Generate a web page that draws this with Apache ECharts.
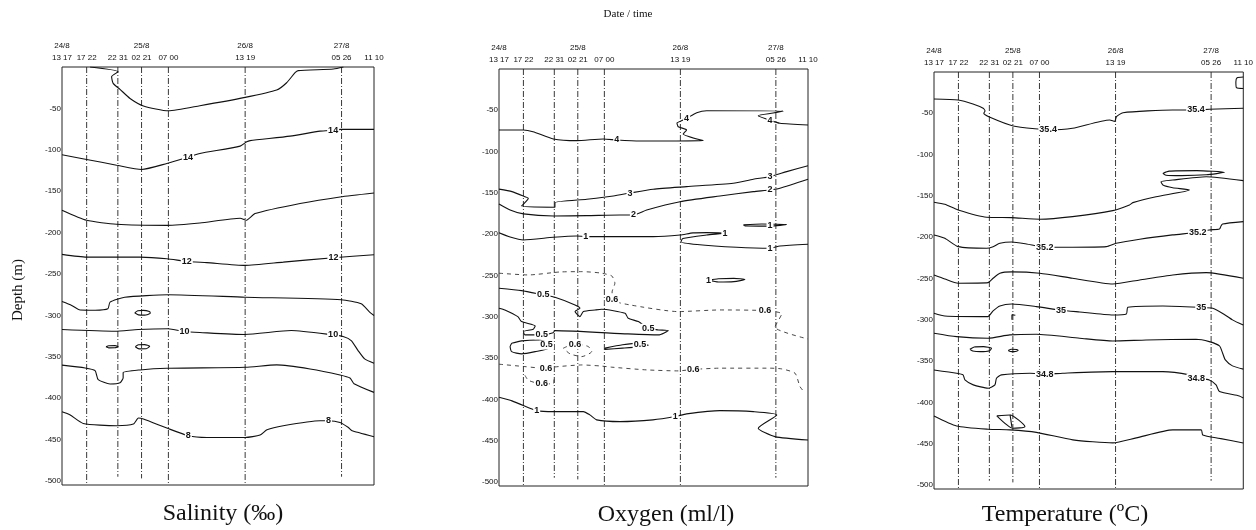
<!DOCTYPE html>
<html><head><meta charset="utf-8">
<script src="https://cdn.jsdelivr.net/npm/echarts@6/dist/echarts.min.js"></script>
<style>html,body{margin:0;padding:0;background:#fff}#c{width:1256px;height:530px}</style>
</head><body><div id="c"></div><script>
// ---- stations (x = relative position along the section, 0..100) ----
const stationPos = [0, 7.9, 17.9, 25.5, 34.1, 58.7, 89.6, 100];
const stationDate = ['24/8', '', '', '25/8', '', '26/8', '27/8', ''];
const stationTime = ['13 17', '17 22', '22 31', '02 21', '07 00', '13 19', '05 26', '11 10'];
const stationMaxDepth = [505, 505, 495, 497, 505, 505, 495, 505];
const depthTicks = [50, 100, 150, 200, 250, 300, 350, 400, 450, 500];

// ---- Salinity contours [x, depth m] ----
const salTop = [[9.0,0],[18.0,5.7],[15.9,11.7],[16.4,19.8],[18.6,27],[21.8,38],[26.1,47],[34.1,52.9],[44.2,46.8],[58.7,36.7],[68.8,27.8],[72.0,19],[74.7,6.9],[75.7,4.4],[87,2.4],[90.2,0]];
const sal14 = [[0,106],[7.9,111.7],[17.5,118.6],[25.5,123.8],[33.6,116.6],[40.4,109],[44.2,104.5],[57.1,95.6],[59.2,90.4],[60.3,89],[73.1,83.5],[82.7,77.5],[86.9,76.3],[89.4,75.4],[100,75.4]];
const sal13 = [[0,173],[7.9,185.2],[17.5,190],[33.6,191.3],[44.2,188.5],[57.1,182.8],[59,185.2],[61.9,177.1],[76.3,165],[89.1,157],[100,152.2]];
const sal12 = [[0,226.4],[7.9,229.7],[25,229.7],[33.6,231.6],[40,234.9],[46.4,236.4],[58.7,239.7],[70.9,235.7],[87,230.4],[100,226.8]];
const sal11 = [[0,283.3],[3.1,288],[5.8,293.6],[10.6,293.8],[14.7,292.1],[15.4,284.1],[20.1,278.1],[34,275.2],[58.7,278.1],[89.5,281.2],[95.9,286.1],[98.6,296.2],[100,300.2]];
const sal10 = [[0,317.2],[17,319.2],[24.4,317.2],[34,316.3],[39.3,319.6],[44.2,320.8],[58.6,323.2],[73.5,318.4],[86.9,323.6],[90.1,325.7],[92.7,330.5],[94.9,342.6],[97,352.7],[100,358]];
const sal9 = [[0,360.2],[7.4,363.6],[10.6,366.8],[11.6,377.7],[15.4,382.9],[18.6,381.4],[19.6,375.3],[19.6,369.2],[25,366],[33.6,364],[58.7,362.8],[68.8,359.9],[79.5,364.8],[89.1,372],[92.3,375.7],[93.6,382.6],[100,393.1]];
const sal8 = [[0,416.5],[2.5,420.1],[6.8,430.6],[17.5,433.4],[22.9,431.4],[24.5,424.1],[26.1,425.3],[33.6,436.2],[40.5,445.5],[46.4,447.6],[58.7,447.6],[63.5,444.7],[65.7,438.3],[70.9,433.4],[82.7,427.4],[85.4,427.4],[89.1,429.4],[91.8,435.5],[93,439.5],[100,446.7]];
const salOval1 = [[23.3,297],[24.3,294.5],[26,294],[28,295.5],[28.3,297.5],[26.5,299.8],[24.5,299.5],[23.3,297]];
const salOval2 = [[14.1,338],[15,336.8],[17,336.6],[18,337.8],[17,339.2],[15,339.3],[14.1,338]];
const salOval3 = [[23.5,338],[24.5,335.6],[26.5,335.4],[28.1,337.5],[27,340.4],[24.7,340.5],[23.5,338]];
const salLabels = [[86.9,76.3,'14'],[40.4,109,'14'],[40,234.9,'12'],[87,230.4,'12'],[39.3,319.6,'10'],[86.9,323.6,'10'],[40.5,445.5,'8'],[85.4,427.4,'8']];

// ---- Oxygen contours ----
const oxy4 = [[0,73.8],[7.9,73.8],[11,75.9],[17.6,84.7],[25.1,86.8],[33.8,84.7],[38.1,86],[45.6,87.2],[66.1,86.8],[59.6,78.7],[60.7,73.8],[58,69.9],[57.6,65.4],[59.6,61.7],[60.7,59.7],[64,52.9],[67.2,50.5],[92,50.8],[88.7,53.3],[83.9,56.5],[87.7,62],[90.9,65.7],[100,67.8]];
const oxy3 = [[0,145.5],[4.2,148.5],[8.4,154.6],[9.5,156.5],[8.7,160.7],[7.3,165.9],[18.1,167.4],[18.1,161.9],[28.4,157.7],[37,153.8],[42.4,150.2],[49.9,145.6],[60.7,142.5],[75.8,138.4],[82.3,133.5],[87.7,130.4],[93.1,124.3],[100,117.1]];
const oxy2 = [[0,163.4],[3.6,170.7],[7.9,175.5],[17.6,178],[28.4,177.6],[39.2,176.8],[43.5,176.8],[47.8,170.7],[58.6,160.7],[71.5,153.8],[82.3,148.5],[87.7,146.5],[90.9,144.4],[100,133.5]];
const oxy1a = [[0,198.2],[3.6,203.4],[7.9,207],[17.6,203.8],[25.1,202.2],[28.1,203],[32.7,203],[49.9,203],[58.6,201],[62.8,198.5],[67.2,198.2],[73.1,198.9],[67.2,201],[59.5,205.2],[58.9,209.1],[64.1,212.5],[76.9,215.9],[87.7,217.1],[90.9,214.3],[100,212.2]];
const oxy1b = [[79.1,188.8],[85,187.8],[93.1,188.3],[88,190.3],[80,190.2],[79.1,188.8]];
const oxy1c = [[67.8,255.6],[71,254],[76,253.5],[79.6,255],[76,257.5],[71,258],[67.8,255.6]];
const oxy1d = [[0,397.5],[4.2,401.9],[10,410.8],[12.2,414],[17.6,414.9],[27.3,414.9],[29.4,418.9],[31.6,424.9],[39.2,427],[49.8,424.9],[57,420.9],[60.7,417.7],[71.5,413.7],[82.3,414.9],[89.9,418.9],[83.9,435],[89.3,445.2],[100,449.3]];
const oxy05a = [[0,265.5],[7.3,268.4],[14.3,273.6],[18.1,276.4],[24.6,285.7],[26.2,289.7],[24.6,293.8],[26.2,299.9],[27.3,293.8],[31.1,291.8],[33.2,290.9],[40.8,295.8],[41.8,301.8],[45.1,305.9],[48.3,314],[51.6,316],[54.8,316.8],[51.6,322],[41.7,320.8],[18.1,316.8],[17.5,319.3],[13.8,322],[8.4,322],[7.9,318],[11.1,315.1],[11.7,311.1],[7.3,305.9],[6.1,299.9],[1.9,291.8],[0,289.7]];
const oxy05b = [[4.1,332.1],[7.3,329.3],[12.7,328.1],[16,332.1],[16,338.1],[11.7,342.3],[7.3,345],[4.1,342.3],[3.6,336.2],[4.1,332.1]];
const oxy05c = [[34.3,338],[40,334],[45,332],[48.3,334.5],[45,336.5],[40,338],[34.3,339.5],[34.3,338]];
const oxy06a = [[0,247.3],[9.5,249.4],[19.7,245.8],[26.8,245.4],[32.7,247],[36.5,250.6],[37.5,259.4],[36.6,270],[36.6,279.7],[42.4,285.7],[58,293.8],[71.5,291.8],[86.1,292.6],[91.5,296.5],[89.3,312.7],[100,327]];
const oxy06b = [[0,357.5],[8.4,360.4],[15.2,362.6],[18.1,360.8],[26.8,358.4],[32.7,359.6],[36.5,361.1],[47.8,364.4],[58,365.6],[62.9,363.8],[71.5,362.3],[87.7,362.3],[91.5,363.2],[95.8,368.4],[97.4,384.6],[98.5,390]];
const oxy06c = [[20.8,338.1],[24.6,332.8],[28.9,336.1],[30,342.2],[26.8,348.3],[23,345],[20.8,338.1]];
const oxy06d = [[8.4,371],[9.5,377],[13.8,381.4],[17.6,381],[17.8,376]];
const oxyLabels = [[38.1,86,'4'],[60.7,59.7,'4'],[87.7,62,'4'],[42.4,150.2,'3'],[87.7,130.4,'3'],[43.5,176.8,'2'],[87.7,146.5,'2'],
  [28.1,203,'1'],[73.1,198.9,'1'],[87.7,217.1,'1'],[87.7,189.5,'1'],[67.8,255.6,'1'],[12.2,414,'1'],[57,420.9,'1'],
  [14.3,273.6,'0.5'],[48.3,314,'0.5'],[13.8,322,'0.5'],[15.4,334.2,'0.5'],[45.6,334,'0.5'],
  [36.6,279.7,'0.6'],[86.1,292.6,'0.6'],[15.2,362.6,'0.6'],[62.9,363.8,'0.6'],[13.8,381.4,'0.6'],[24.6,334,'0.6']];

// ---- Temperature contours ----
const temp354 = [[0,32.7],[7.8,33.9],[12.6,38.7],[15.9,43.9],[16.5,47.2],[16.1,50],[18.1,54.8],[25.6,65.4],[34.2,69.4],[36.9,70.2],[44.8,68.2],[56.8,58.1],[58.4,59.9],[59,54.1],[61.1,49.3],[77.1,46],[84.7,46],[89,45.2],[100,43.9]];
const tempBump = [[100,6],[98,7],[97.6,12],[97.8,19],[100,20]];
const temp353 = [[0,157.7],[3.5,160.2],[7.8,167.1],[17,175.9],[25.1,176.4],[34.2,178.3],[44.8,175.2],[57.8,167.9],[63.2,161],[64.3,158.2],[71.8,151],[82.6,142.9],[77.2,140.1],[74,136.8],[73.4,132.8],[77.2,130.8],[88,126.8],[100,131.6]];
const tempLoop = [[74,122.8],[76,120],[85,119.4],[93.9,121.5],[88,124.5],[80,125.5],[75,125],[74,122.8]];
const temp352 = [[0,197.3],[3.5,201.3],[7.8,211.5],[17,213.4],[19.1,211.5],[21.3,207.4],[25.1,205.8],[29.9,208.2],[35.8,212.2],[44.8,212.2],[55.7,211.5],[58.9,207.4],[66.5,202.5],[77.1,197.3],[85.3,194.1],[89,191.3],[92.3,190.1],[92.8,186.4],[93.3,184],[100,181.2]];
const temp351 = [[0,245.8],[3.5,250.6],[7.8,255.8],[17.5,255.1],[19.1,249.8],[21.3,243.7],[25.1,242.1],[34.2,243.7],[44.8,249.8],[57.8,256.7],[66.5,251.8],[77.2,245.8],[88,243],[100,249.8]];
const temp350 = [[0,292.1],[3.5,295.4],[17.4,296.2],[19.1,289.3],[21.3,283.3],[25.1,280.9],[33.1,284.1],[41.1,288.5],[47.1,290.6],[57.8,294.2],[62.2,293],[62.7,284.9],[74,283.3],[86.4,285.1],[90.1,286.1],[93.2,292.1],[96.5,300.2],[100,306.5]];
const tempHook = [[25.2,300],[25.2,294],[26.3,294.6]];
const temp349 = [[0,316.3],[7.3,320.5],[17.5,322.4],[24.5,318.4],[33.1,317.6],[47.1,322.4],[57.8,325.7],[68.6,324.5],[84.7,323.6],[89,326.5],[92.3,331.7],[93.3,340.2],[94.2,348.7],[96.5,355.9],[100,359.8]];
const tempOval1 = [[11.6,335.8],[13,333],[16,332.6],[18.6,334.5],[18,337.5],[15,338.6],[12.5,337.8],[11.6,335.8]];
const tempOval2 = [[24,337.2],[25,335.8],[26.8,336],[27.2,337.3],[26,338.6],[24.7,338.4],[24,337.2]];
const temp348 = [[0,360.8],[7.3,364.8],[9.4,366.8],[10,372.9],[12.7,378.9],[17.5,382.9],[19.7,378.9],[20.2,370.8],[21.8,366.8],[31,364.8],[35.8,366],[41.6,364.8],[57.8,362.8],[74,362.8],[82.6,366.8],[84.8,370.8],[89,372.9],[91.2,379],[92.3,387],[98.7,392.3],[100,394.7]];
const temp347 = [[0,416.5],[7.3,428.6],[17.5,432.6],[24.5,433.4],[33.1,436.4],[44.9,445.5],[57.8,449.2],[65.4,443.1],[77.2,433.4],[86.4,433.4],[86.9,439.5],[92.3,443.7],[100,449.2]];
const tempTri = [[20.3,416.5],[24.6,415.3],[29.4,429.5],[25.5,431.4],[20.3,416.5]];
const tempTriIn = [[24.6,415.3],[25.2,430]];
const tempLabels = [[36.9,70.2,'35.4'],[84.7,46,'35.4'],[35.8,212.2,'35.2'],[85.3,194.1,'35.2'],[41.1,288.5,'35'],[86.4,285.1,'35'],[35.8,366,'34.8'],[84.8,370.8,'34.8']];

// ---- layout ----
const panels = [
  { box: {left: 62, top: 67, width: 312, height: 418},
    solid: [salTop, sal14, sal13, sal12, sal11, sal10, sal9, sal8, salOval1, salOval2, salOval3], dashed: [], labels: salLabels },
  { box: {left: 499, top: 69, width: 309, height: 417},
    solid: [oxy4, oxy3, oxy2, oxy1a, oxy1b, oxy1c, oxy1d, oxy05a, oxy05b, oxy05c], dashed: [oxy06a, oxy06b, oxy06c, oxy06d], labels: oxyLabels },
  { box: {left: 934, top: 72, width: 310, height: 417},
    solid: [temp354, tempBump, temp353, tempLoop, temp352, temp351, temp350, tempHook, temp349, tempOval1, tempOval2, temp348, temp347, tempTri, tempTriIn], dashed: [], labels: tempLabels }
];

const FONT = 'Liberation Sans, Arial, sans-serif';
const grids = [], xAxes = [], yAxes = [], series = [];
function nearestStation(v) {
  let i = 0, best = 1e9;
  stationPos.forEach((p, k) => { const d = Math.abs(p - v); if (d < best) { best = d; i = k; } });
  return i;
}
panels.forEach((p, gi) => {
  grids.push(Object.assign({show: true, borderColor: '#222', borderWidth: 1, containLabel: false}, p.box));
  xAxes.push({
    gridIndex: gi, type: 'value', min: 0, max: 100, position: 'top',
    axisLine: {show: false}, axisTick: {show: false}, splitLine: {show: false},
    axisLabel: {
      customValues: stationPos, showMinLabel: true, showMaxLabel: true,
      fontSize: 8, lineHeight: 12, margin: 3, color: '#111', fontFamily: FONT,
      formatter: v => { const i = nearestStation(v); return stationDate[i] ? stationDate[i] + '\n' + stationTime[i] : stationTime[i]; }
    }
  });
  yAxes.push({
    gridIndex: gi, type: 'value', min: 0, max: 505, inverse: true,
    axisLine: {show: false}, axisTick: {show: false}, splitLine: {show: false},
    axisLabel: {customValues: depthTicks, formatter: v => '-' + v, fontSize: 8, margin: 1, color: '#111', fontFamily: FONT}
  });
  // station lines
  for (let k = 1; k < stationPos.length - 1; k++) {
    series.push({
      type: 'line', xAxisIndex: gi, yAxisIndex: gi, silent: true, symbol: 'none', z: 1,
      data: [[stationPos[k], 0], [stationPos[k], stationMaxDepth[k]]],
      lineStyle: {color: '#222', width: 0.9, type: [6, 2, 1, 2]}
    });
  }
  p.solid.forEach(d => series.push({
    type: 'line', xAxisIndex: gi, yAxisIndex: gi, silent: true, symbol: 'none', smooth: 0.2, z: 2,
    data: d, lineStyle: {color: '#111', width: 1.1}
  }));
  p.dashed.forEach(d => series.push({
    type: 'line', xAxisIndex: gi, yAxisIndex: gi, silent: true, symbol: 'none', smooth: 0.2, z: 2,
    data: d, lineStyle: {color: '#333', width: 0.9, type: [4, 4]}
  }));
  series.push({
    type: 'scatter', xAxisIndex: gi, yAxisIndex: gi, silent: true, symbol: 'circle', symbolSize: 2, z: 5,
    itemStyle: {color: 'rgba(255,255,255,0)'},
    data: p.labels.map(l => ({name: l[2], value: [l[0], l[1]]})),
    label: {show: true, position: 'inside', formatter: '{b}', fontSize: 9, fontWeight: 'bold', color: '#111', opacity: 1,
      fontFamily: FONT, backgroundColor: '#fff', padding: [0, 1]}
  });
});

const SERIF = '"Liberation Serif", "Times New Roman", serif';
const chart = echarts.init(document.getElementById('c'), null, {renderer: 'canvas'});
chart.setOption({
  animation: false,
  backgroundColor: '#fff',
  grid: grids, xAxis: xAxes, yAxis: yAxes, series: series,
  graphic: [
    {type: 'text', x: 628, y: 14, style: {text: 'Date / time', font: '11px ' + SERIF, fill: '#111', textAlign: 'center', textVerticalAlign: 'middle'}},
    {type: 'text', x: 18, y: 290, rotation: Math.PI / 2, style: {text: 'Depth (m)', font: '15px ' + SERIF, fill: '#111', textAlign: 'center', textVerticalAlign: 'middle'}},
    {type: 'text', x: 223, y: 514, style: {text: 'Salinity (‰)', font: '24px ' + SERIF, fill: '#111', textAlign: 'center', textVerticalAlign: 'middle'}},
    {type: 'text', x: 666, y: 515, style: {text: 'Oxygen (ml/l)', font: '24px ' + SERIF, fill: '#111', textAlign: 'center', textVerticalAlign: 'middle'}},
    {type: 'text', x: 1065, y: 515, style: {text: 'Temperature (ºC)', font: '24px ' + SERIF, fill: '#111', textAlign: 'center', textVerticalAlign: 'middle'}}
  ]
});
</script></body></html>
